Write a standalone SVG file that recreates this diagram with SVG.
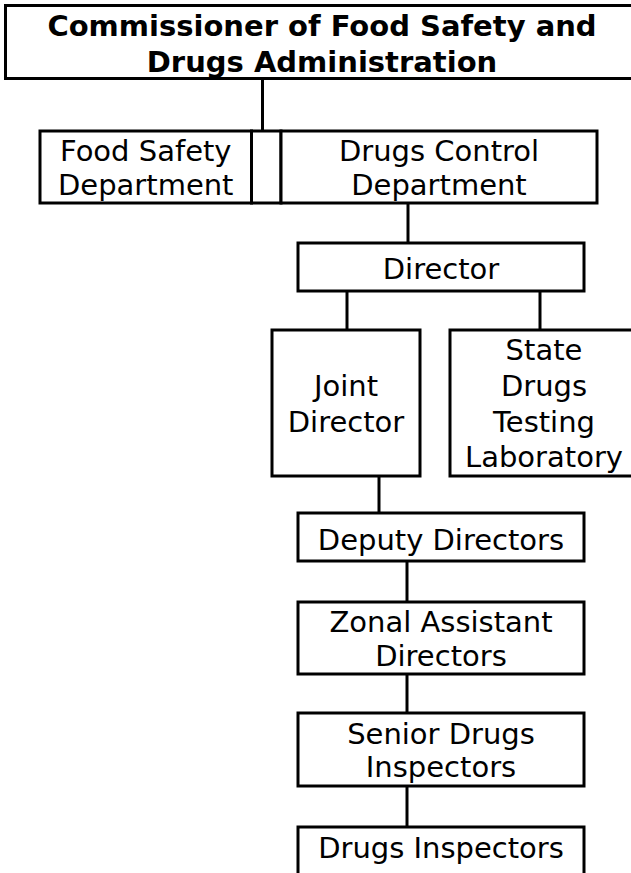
<svg xmlns="http://www.w3.org/2000/svg" width="631" height="873" viewBox="0 0 631 873">
<style>
.box{fill:#fff;stroke:#000;stroke-width:3}
.t{font-family:"DejaVu Sans","Verdana",sans-serif;font-size:29px;fill:#000;text-anchor:middle}
.b{font-weight:bold}
.c line{stroke:#000;stroke-width:3}
</style>
<rect width="631" height="873" fill="#fff"/>
<g class="c" id="connectors">
<line x1="262.5" y1="78.5" x2="262.5" y2="131"/>
<line x1="408" y1="203" x2="408" y2="243"/>
<line x1="347" y1="291" x2="347" y2="330"/>
<line x1="540" y1="291" x2="540" y2="330"/>
<line x1="379" y1="476" x2="379" y2="513"/>
<line x1="407" y1="561" x2="407" y2="602"/>
<line x1="407" y1="674" x2="407" y2="713"/>
<line x1="407" y1="786" x2="407" y2="827"/>
</g>
<g id="commissioner">
<rect class="box" x="5.5" y="5.5" width="640" height="73"/>
<text class="t b" x="322" y="36">Commissioner of Food Safety and</text>
<text class="t b" x="322" y="72">Drugs Administration</text>
</g>
<g id="food-safety">
<rect class="box" x="40" y="131" width="211.5" height="72"/>
<text class="t" x="145.75" y="161">Food Safety</text>
<text class="t" x="145.75" y="195">Department</text>
</g>
<g id="gap-cell">
<rect class="box" x="251.5" y="131" width="29.5" height="72"/>
</g>
<g id="drugs-control">
<rect class="box" x="281" y="131" width="316" height="72"/>
<text class="t" x="439" y="161">Drugs Control</text>
<text class="t" x="439" y="195">Department</text>
</g>
<g id="director">
<rect class="box" x="298" y="243" width="286" height="48"/>
<text class="t" x="441" y="279">Director</text>
</g>
<g id="joint-director">
<rect class="box" x="272" y="330" width="148" height="146"/>
<text class="t" x="346" y="396">Joint</text>
<text class="t" x="346" y="432">Director</text>
</g>
<g id="state-lab">
<rect class="box" x="450" y="330" width="190" height="146"/>
<text class="t" x="544" y="360">State</text>
<text class="t" x="544" y="396">Drugs</text>
<text class="t" x="544" y="432">Testing</text>
<text class="t" x="544" y="467">Laboratory</text>
</g>
<g id="deputy-directors">
<rect class="box" x="298" y="513" width="286" height="48"/>
<text class="t" x="441" y="550">Deputy Directors</text>
</g>
<g id="zonal-assistant-directors">
<rect class="box" x="298" y="602" width="286" height="72"/>
<text class="t" x="441" y="632">Zonal Assistant</text>
<text class="t" x="441" y="666">Directors</text>
</g>
<g id="senior-drugs-inspectors">
<rect class="box" x="298" y="713" width="286" height="73"/>
<text class="t" x="441" y="744">Senior Drugs</text>
<text class="t" x="441" y="777">Inspectors</text>
</g>
<g id="drugs-inspectors">
<rect class="box" x="298" y="827" width="286" height="60"/>
<text class="t" x="441" y="858">Drugs Inspectors</text>
</g>
</svg>
